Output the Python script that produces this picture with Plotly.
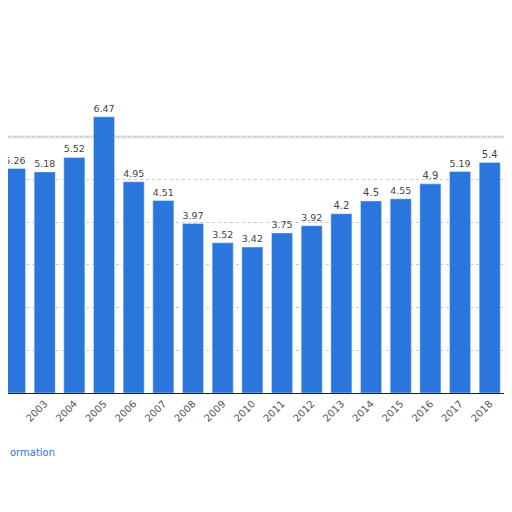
import plotly.graph_objects as go

years = list(range(2002, 2020))
values = [5.26, 5.18, 5.52, 6.47, 4.95, 4.51, 3.97, 3.52, 3.42, 3.75,
          3.92, 4.2, 4.5, 4.55, 4.9, 5.19, 5.4, 5.34]
labels = [str(v) for v in values]
labels[-1] = "5.3"

fig = go.Figure(go.Bar(
    x=years, y=values, width=0.71,
    marker=dict(color="#2a76dd"),
    text=labels, textposition="outside", cliponaxis=False,
    textfont=dict(family="DejaVu Sans", size=10, color="#444"),
))

fig.update_layout(
    width=512, height=512,
    margin=dict(l=0, r=0, t=0, b=127, autoexpand=False),
    plot_bgcolor="white", paper_bgcolor="white",
    showlegend=False,
    xaxis=dict(range=[2001.764, 2019.02], tickmode="array", tickvals=years,
               ticktext=[str(y) for y in years], tickangle=-45, automargin=False,
               tickfont=dict(family="DejaVu Sans", size=10, color="#555"),
               showline=True, linecolor="#222", linewidth=1, showgrid=False),
    yaxis=dict(range=[0, 9.02], tickvals=[1, 2, 3, 4, 5, 6], showticklabels=False,
               automargin=False, gridcolor="#ccc", griddash="dot", zeroline=False),
)
fig.add_annotation(text="ormation", xref="paper", yref="paper", x=0, y=-0.174,
                   xanchor="left", showarrow=False,
                   font=dict(size=10, color="#2a76dd", family="DejaVu Sans"))
fig.add_annotation(text="©", xref="paper", yref="paper", x=1, y=-0.17,
                   xanchor="right", showarrow=False,
                   font=dict(size=10, color="#2a76dd", family="DejaVu Sans"))
fig.add_shape(type="line", xref="paper", yref="y", x0=0, x1=1, y0=6, y1=6,
              line=dict(color="#e2e2e2", width=3), layer="below")

fig.write_html("out.html")
